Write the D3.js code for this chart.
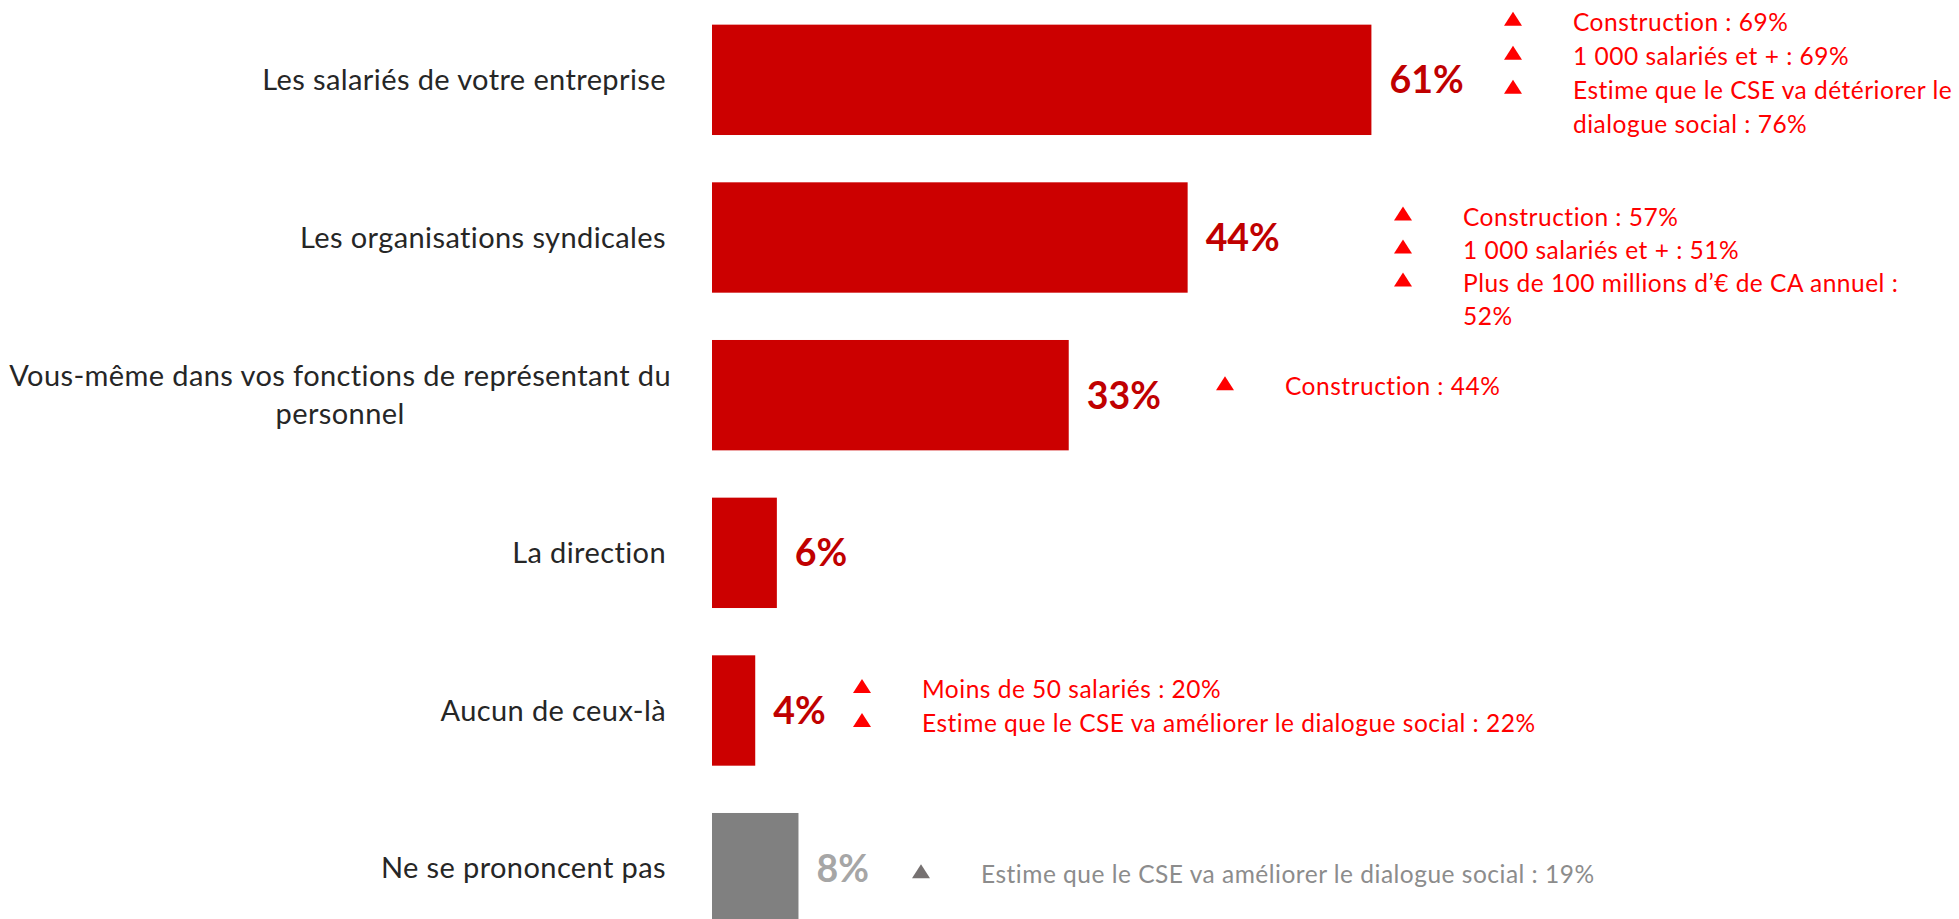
<!DOCTYPE html>
<html>
<head>
<meta charset="utf-8">
<script src="https://cdn.jsdelivr.net/npm/d3@7"></script>
<style>
  body { margin: 0; background: #fff; }
  svg { display: block; }
  text { font-variant-ligatures: none; }
</style>
</head>
<body>
<div id="chart"></div>
<script>
(function() {
  var categories, values, notes, notePos, barColors, valueColors, noteColors, triColors;
  var width, height, svg, x, y, rows, wrapLabel, triangle;

  // data
  categories = ['Les salariés de votre entreprise', 'Les organisations syndicales', 'Vous-même dans vos fonctions de représentant du personnel', 'La direction', 'Aucun de ceux-là', 'Ne se prononcent pas'];
  values = [61, 44, 33, 6, 4, 8];
  notes = [
    [['Construction : 69%'], ['1 000 salariés et + : 69%'], ['Estime que le CSE va détériorer le', 'dialogue social : 76%']],
    [['Construction : 57%'], ['1 000 salariés et + : 51%'], ['Plus de 100 millions d’€ de CA annuel :', '52%']],
    [['Construction : 44%']],
    [],
    [['Moins de 50 salariés : 20%'], ['Estime que le CSE va améliorer le dialogue social : 22%']],
    [['Estime que le CSE va améliorer le dialogue social : 19%']]
  ];

  // layout of the annotation boxes (triangle left edge, first baseline offset from bar centre)
  notePos = [{x: 1504, dy: -49, step: 34}, {x: 1394, dy: -12, step: 33}, {x: 1216, dy: 0, step: 33}, {x: 0, dy: 0, step: 33}, {x: 853, dy: -12.5, step: 34}, {x: 912, dy: 15, step: 33}];

  barColors = ['#cc0000', '#cc0000', '#cc0000', '#cc0000', '#cc0000', '#808080'];
  valueColors = ['#c00000', '#c00000', '#c00000', '#c00000', '#c00000', '#a6a6a6'];
  noteColors = ['#ff0000', '#ff0000', '#ff0000', '#ff0000', '#ff0000', '#8c8c8c'];
  triColors = ['#ff0000', '#ff0000', '#ff0000', '#ff0000', '#ff0000', '#767171'];

  width = 1959;
  height = 919;

  svg = d3.select('#chart').append('svg').attr('width', width).attr('height', height).attr('viewBox', '0 0 ' + width + ' ' + height);

  x = d3.scaleLinear().domain([0, 100]).range([712, 712 + 1081]);
  y = d3.scaleBand().domain(categories).range([1, 947]).paddingInner(0.3).paddingOuter(0.15);

  triangle = function(x0, base) {
    return 'M' + x0 + ',' + base + 'L' + (x0 + 18) + ',' + base + 'L' + (x0 + 9) + ',' + (base - 14) + 'Z';
  };

  rows = svg.selectAll('g.row').data(categories).enter().append('g').attr('class', 'row');

  rows.append('rect').attr('x', x(0)).attr('y', function(d) {
    return y(d);
  }).attr('width', function(d, i) {
    return x(values[i]) - x(0);
  }).attr('height', y.bandwidth()).attr('fill', function(d, i) {
    return barColors[i];
  });

  rows.append('text').attr('x', function(d, i) {
    return x(values[i]) + 18;
  }).attr('y', function(d) {
    return y(d) + y.bandwidth() / 2 + 13.5;
  }).attr('font-family', 'Lato').attr('font-weight', 'bold').attr('font-size', 37.5).attr('fill', function(d, i) {
    return valueColors[i];
  }).text(function(d, i) {
    return values[i] + '%';
  });

  // category labels, wrapped when too long
  wrapLabel = function(g, label, cy) {
    var words, lines, line, probe, i, t, w0;
    probe = g.append('text').attr('font-family', 'Lato').attr('font-size', 29).attr('letter-spacing', 0.4);
    words = label.split(' ');
    lines = [];
    line = words[0];
    for (i = 1; i < words.length; i++) {
      probe.text(line + ' ' + words[i]);
      if (probe.node().getComputedTextLength() > 720) {
        lines.push(line);
        line = words[i];
      } else {
        line = line + ' ' + words[i];
      }
    }
    lines.push(line);
    probe.text(lines[0]);
    w0 = probe.node().getComputedTextLength();
    probe.remove();
    if (lines.length === 1) {
      g.append('text').attr('x', 666).attr('y', cy + 10).attr('text-anchor', 'end').attr('font-family', 'Lato').attr('font-size', 29).attr('letter-spacing', 0.4).attr('fill', '#262626').text(lines[0]);
    } else {
      t = g.append('text').attr('text-anchor', 'middle').attr('font-family', 'Lato').attr('font-size', 29).attr('letter-spacing', 0.4).attr('fill', '#262626');
      lines.forEach(function(l, k) {
        t.append('tspan').attr('x', 671 - w0 / 2).attr('y', cy + 10 - 19 * (lines.length - 1) + 38 * k).text(l);
      });
    }
  };

  rows.each(function(d, i) {
    var g, cy, pos, row;
    g = d3.select(this);
    cy = y(d) + y.bandwidth() / 2;
    wrapLabel(g, d, cy);
    pos = notePos[i];
    row = 0;
    notes[i].forEach(function(item) {
      var base = cy + pos.dy + row * pos.step;
      g.append('path').attr('d', triangle(pos.x, base - 5)).attr('fill', triColors[i]);
      item.forEach(function(l) {
        g.append('text').attr('x', pos.x + 69).attr('y', cy + pos.dy + row * pos.step).attr('font-family', 'Lato').attr('font-size', 24.5).attr('letter-spacing', 0.5).attr('fill', noteColors[i]).text(l);
        row++;
      });
    });
  });
})();
</script>
</body>
</html>
